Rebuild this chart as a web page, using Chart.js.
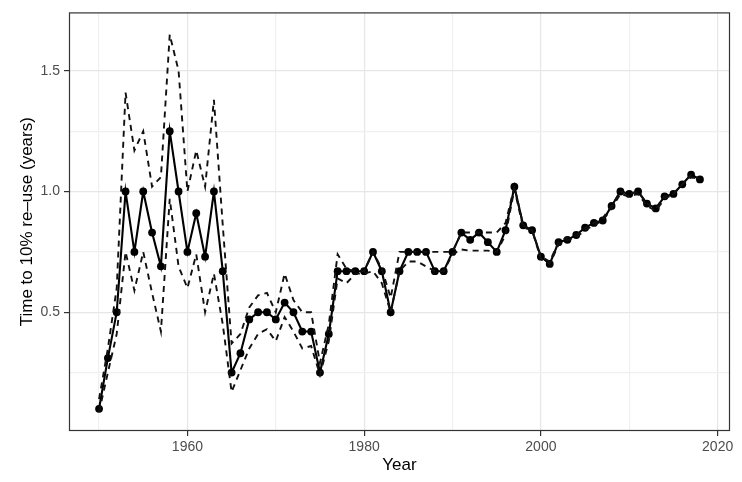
<!DOCTYPE html>
<html>
<head>
<meta charset="utf-8">
<script src="https://cdn.jsdelivr.net/npm/chart.js@4"></script>
<style>
  body { margin: 0; background: #fff; }
  #wrap { width: 742px; height: 482px; }
</style>
</head>
<body>
<div id="wrap"><canvas id="reuseChart" width="742" height="482"></canvas></div>
<script>
const years = [1950,1951,1952,1953,1954,1955,1956,1957,1958,1959,
  1960,1961,1962,1963,1964,1965,1966,1967,1968,1969,
  1970,1971,1972,1973,1974,1975,1976,1977,1978,1979,
  1980,1981,1982,1983,1984,1985,1986,1987,1988,1989,
  1990,1991,1992,1993,1994,1995,1996,1997,1998,1999,
  2000,2001,2002,2003,2004,2005,2006,2007,2008,2009,
  2010,2011,2012,2013,2014,2015,2016,2017,2018];

const estimate = [0.10,0.31,0.50,1.00,0.75,1.00,0.83,0.69,1.25,1.00,
  0.75,0.91,0.73,1.00,0.67,0.25,0.33,0.47,0.50,0.50,
  0.47,0.54,0.50,0.42,0.42,0.25,0.41,0.67,0.67,0.67,
  0.67,0.75,0.67,0.50,0.67,0.75,0.75,0.75,0.67,0.67,
  0.75,0.83,0.80,0.83,0.79,0.75,0.84,1.02,0.86,0.84,
  0.73,0.70,0.79,0.80,0.82,0.85,0.87,0.88,0.94,1.00,
  0.99,1.00,0.95,0.93,0.98,0.99,1.03,1.07,1.05];

const upper = [0.14,0.35,0.60,1.41,1.17,1.25,1.02,1.06,1.65,1.50,
  1.00,1.17,1.02,1.38,0.86,0.37,0.41,0.52,0.57,0.58,
  0.50,0.66,0.55,0.50,0.50,0.29,0.45,0.74,0.68,0.67,
  0.67,0.75,0.68,0.56,0.75,0.75,0.75,0.75,0.75,0.75,
  0.75,0.83,0.83,0.83,0.83,0.83,0.87,1.02,0.86,0.84,
  0.73,0.71,0.79,0.81,0.82,0.85,0.87,0.89,0.94,1.00,
  0.99,1.00,0.95,0.93,0.98,0.99,1.03,1.07,1.05];

const lower = [0.087,0.25,0.41,0.75,0.59,0.75,0.58,0.42,0.97,0.69,
  0.60,0.74,0.50,0.66,0.45,0.17,0.26,0.35,0.41,0.43,
  0.38,0.48,0.42,0.35,0.36,0.24,0.38,0.64,0.62,0.66,
  0.66,0.67,0.62,0.50,0.67,0.71,0.71,0.69,0.67,0.67,
  0.74,0.76,0.755,0.755,0.755,0.75,0.82,1.01,0.85,0.84,
  0.72,0.70,0.78,0.80,0.81,0.84,0.86,0.88,0.93,0.99,
  0.98,0.99,0.94,0.92,0.97,0.99,1.03,1.06,1.05];

const xTicks = [1950,1960,1970,1980,1990,2000,2010,2020];
const xLabels = [1960,1980,2000,2020];
const yTicks = [0.25,0.5,0.75,1.0,1.25,1.5];
const yLabels = [0.5,1.0,1.5];

function toPoints(values) {
  return years.map((yr, i) => ({x: yr, y: values[i]}));
}

// ggplot style panel border on all four sides
const panelBorder = {
  id: 'panelBorder',
  afterDraw(chart) {
    const {ctx, chartArea} = chart;
    ctx.save();
    ctx.strokeStyle = '#333333';
    ctx.lineWidth = 1.2;
    ctx.strokeRect(chartArea.left + 0.5, chartArea.top + 0.5,
      chartArea.right - chartArea.left - 1, chartArea.bottom - chartArea.top - 1);
    ctx.restore();
  }
};

const dashed = {borderColor: '#111', borderWidth: 1.9, borderDash: [6, 5], pointRadius: 0, fill: false, tension: 0};

new Chart(document.getElementById('reuseChart'), {
  type: 'line',
  data: {
    datasets: [
      {...dashed, label: 'upper', data: toPoints(upper)},
      {...dashed, label: 'lower', data: toPoints(lower)},
      {
        label: 'estimate', data: toPoints(estimate),
        borderColor: '#000', borderWidth: 2.1, tension: 0, fill: false,
        pointRadius: 3.9, pointBackgroundColor: '#000', pointBorderWidth: 0
      }
    ]
  },
  options: {
    responsive: false,
    animation: false,
    layout: { padding: { top: 8, right: 12, left: 0, bottom: 0 } },
    plugins: { legend: { display: false }, tooltip: { enabled: false } },
    scales: {
      x: {
        type: 'linear',
        min: 1946.6,
        max: 2021.4,
        afterBuildTicks: scale => { scale.ticks = xTicks.map(v => ({value: v})); },
        afterFit: scale => { scale.height = 51; },
        ticks: {
          autoSkip: false, maxRotation: 0, padding: 3,
          color: '#4D4D4D', font: { family: 'Liberation Sans, Arial', size: 14 },
          callback: v => xLabels.includes(v) ? String(v) : ''
        },
        grid: {
          color: ctx => xLabels.includes(ctx.tick && ctx.tick.value) ? '#E6E6E6' : '#F0F0F0',
          lineWidth: 1.2,
          tickLength: 5,
          tickColor: ctx => xLabels.includes(ctx.tick && ctx.tick.value) ? '#333333' : 'rgba(0,0,0,0)'
        },
        border: { display: false },
        title: {
          display: true, text: 'Year', color: '#000',
          font: { family: 'Liberation Sans, Arial', size: 17 },
          padding: { top: 0, bottom: 6 }
        }
      },
      y: {
        type: 'linear',
        min: 0.008,
        max: 1.742,
        afterBuildTicks: scale => { scale.ticks = yTicks.map(v => ({value: v})); },
        afterFit: scale => { scale.width = 69; },
        ticks: {
          autoSkip: false, padding: 4,
          color: '#4D4D4D', font: { family: 'Liberation Sans, Arial', size: 14 },
          callback: v => yLabels.includes(v) ? v.toFixed(1) : ''
        },
        grid: {
          color: ctx => yLabels.includes(ctx.tick && ctx.tick.value) ? '#E6E6E6' : '#F0F0F0',
          lineWidth: 1.2,
          tickLength: 5,
          tickColor: ctx => yLabels.includes(ctx.tick && ctx.tick.value) ? '#333333' : 'rgba(0,0,0,0)'
        },
        border: { display: false },
        title: {
          display: true, text: 'Time to 10% re–use (years)', color: '#000',
          font: { family: 'Liberation Sans, Arial', size: 17 },
          padding: { top: 17, bottom: 0 }
        }
      }
    }
  },
  plugins: [panelBorder]
});
</script>
</body>
</html>
